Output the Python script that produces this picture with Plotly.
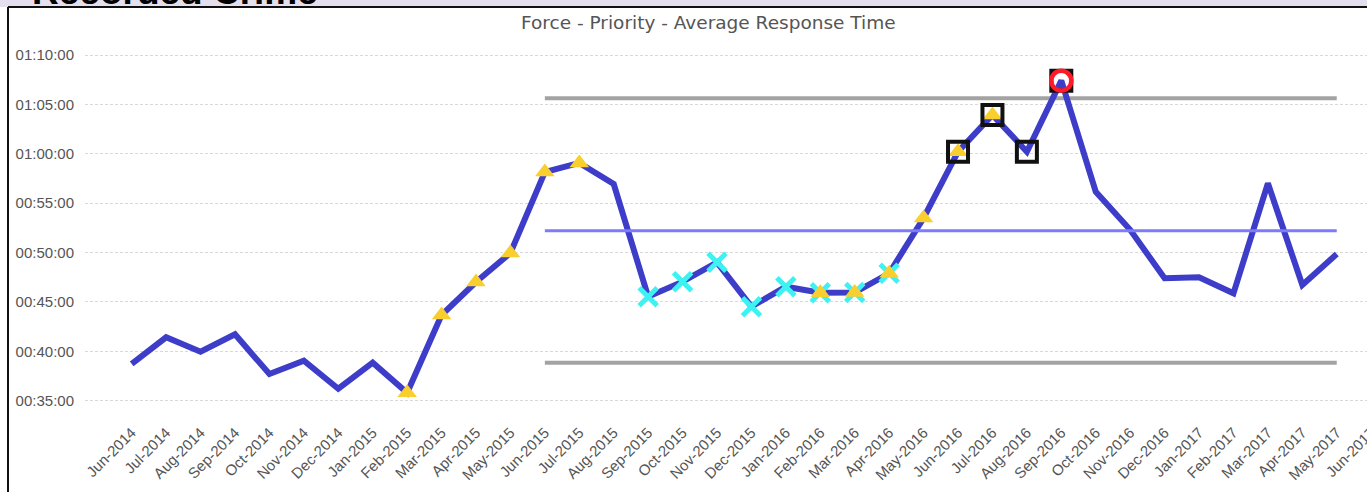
import plotly.graph_objects as go

# ---------------- data ----------------
months = ["Jun-2014", "Jul-2014", "Aug-2014", "Sep-2014", "Oct-2014", "Nov-2014", "Dec-2014",
          "Jan-2015", "Feb-2015", "Mar-2015", "Apr-2015", "May-2015", "Jun-2015", "Jul-2015",
          "Aug-2015", "Sep-2015", "Oct-2015", "Nov-2015", "Dec-2015", "Jan-2016", "Feb-2016",
          "Mar-2016", "Apr-2016", "May-2016", "Jun-2016", "Jul-2016", "Aug-2016", "Sep-2016",
          "Oct-2016", "Nov-2016", "Dec-2016", "Jan-2017", "Feb-2017", "Mar-2017", "Apr-2017",
          "May-2017", "Jun-2017"]

# average response time in minutes (Jun-2014 .. May-2017)
avg_minutes = [38.72, 41.42, 39.96, 41.72, 37.70, 39.05, 36.21, 38.85, 35.81, 43.68,
               47.02, 49.95, 58.15, 59.07, 56.94, 45.53, 47.05, 49.01, 44.52, 46.54,
               45.93, 45.95, 47.90, 53.50, 60.21, 63.93, 60.21, 67.40, 56.16, 52.30,
               47.39, 47.49, 45.87, 57.01, 46.71, 49.85]

# control limits (minutes), applied from limit_start to the last month with data
centre_line = 52.2
upper_limit = 65.62
lower_limit = 38.85
limit_start = "Jun-2015"

# SPC rule flags
trend_months = ["Feb-2015", "Mar-2015", "Apr-2015", "May-2015", "Jun-2015", "Jul-2015",
                "Feb-2016", "Mar-2016", "Apr-2016", "May-2016", "Jun-2016", "Jul-2016"]
run_months = ["Sep-2015", "Oct-2015", "Nov-2015", "Dec-2015", "Jan-2016", "Feb-2016",
              "Mar-2016", "Apr-2016"]
near_limit_months = ["Jun-2016", "Jul-2016", "Aug-2016", "Sep-2016"]
outside_months = ["Sep-2016"]

tick_minutes = [35, 40, 45, 50, 55, 60, 65, 70]
tick_text = ["00:35:00", "00:40:00", "00:45:00", "00:50:00", "00:55:00",
             "01:00:00", "01:05:00", "01:10:00"]

# ---------------- helpers ----------------
data_months = months[:len(avg_minutes)]
value_of = dict(zip(data_months, avg_minutes))
limit_months = data_months[data_months.index(limit_start):]

W, H = 1410, 492
ML, MT, MB = 85, 30, 72
PW = W - ML
PH = H - MT - MB


def px_x(px):
    return (px - ML) / PW


def px_y(py):
    return (H - MB - py) / PH


fig = go.Figure()

fig.add_trace(go.Scatter(x=limit_months, y=[upper_limit] * len(limit_months), mode="lines",
                         line=dict(color="#a3a3a3", width=4), hoverinfo="skip"))
fig.add_trace(go.Scatter(x=limit_months, y=[lower_limit] * len(limit_months), mode="lines",
                         line=dict(color="#a3a3a3", width=4), hoverinfo="skip"))
fig.add_trace(go.Scatter(x=data_months, y=avg_minutes, mode="lines",
                         line=dict(color="#3d3dc9", width=6)))
fig.add_trace(go.Scatter(x=limit_months, y=[centre_line] * len(limit_months), mode="lines",
                         line=dict(color="#7b7bfb", width=3), hoverinfo="skip"))

fig.add_trace(go.Scatter(x=run_months, y=[value_of[m] for m in run_months], mode="markers",
                         marker=dict(symbol="x-thin", size=18,
                                     line=dict(color="#3ff2f2", width=5))))
fig.add_trace(go.Scatter(x=trend_months, y=[value_of[m] for m in trend_months], mode="markers",
                         marker=dict(symbol="triangle-up", size=17, color="#f8cf2e",
                                     line=dict(width=0))))
fig.add_trace(go.Scatter(x=near_limit_months, y=[value_of[m] for m in near_limit_months],
                         mode="markers",
                         marker=dict(symbol="square-open", size=20, color="#111111",
                                     line=dict(width=4))))
fig.add_trace(go.Scatter(x=outside_months, y=[value_of[m] for m in outside_months],
                         mode="markers",
                         marker=dict(symbol="circle-open", size=20, color="#ff1a2a",
                                     line=dict(width=4.5))))

spacing = 34.43
first_px = 131.7
x_left = -(first_px - ML) / spacing
x_right = x_left + PW / spacing
px_per_min = (400.7 - 55.0) / 35.0
y_top = 70 + (55.0 - MT) / px_per_min
y_bottom = 35 - (H - MB - 400.7) / px_per_min

fig.update_layout(
    width=W, height=H,
    margin=dict(l=ML, r=0, t=MT, b=MB),
    paper_bgcolor="white", plot_bgcolor="white",
    showlegend=False,
    xaxis=dict(type="category", categoryorder="array", categoryarray=months,
               range=[x_left, x_right], showgrid=False, zeroline=False, showline=False,
               tickangle=-45, ticks="", tickfont=dict(family="Liberation Sans, Arial",
                                                      size=15, color="#555555")),
    yaxis=dict(range=[y_bottom, y_top], tickvals=tick_minutes, ticktext=tick_text,
               showgrid=True, gridcolor="#d9d9d9", griddash="3px,2px", gridwidth=1,
               zeroline=False, showline=False, ticks="", ticklabelstandoff=10,
               tickfont=dict(family="Liberation Sans, Arial", size=15, color="#555555")),
    shapes=[
        dict(type="rect", xref="paper", yref="paper", x0=px_x(0), x1=1,
             y0=px_y(7), y1=px_y(0), fillcolor="#e4dfee", line=dict(width=0)),
        dict(type="line", xref="paper", yref="paper", x0=px_x(8), x1=1,
             y0=px_y(7), y1=px_y(7), line=dict(color="#111111", width=2)),
        dict(type="line", xref="paper", yref="paper", x0=px_x(8), x1=px_x(8),
             y0=px_y(7), y1=px_y(H), line=dict(color="#111111", width=2)),
    ],
    annotations=[
        dict(text="Force - Priority - Average Response Time", xref="paper", yref="paper",
             x=px_x(708), y=px_y(22), xanchor="center", yanchor="middle", showarrow=False,
             font=dict(family="DejaVu Sans", size=18.5, color="#555555")),
        dict(text="<b>Recorded Crime</b>", xref="paper", yref="paper",
             x=px_x(30), y=px_y(-8), xanchor="left", yanchor="middle", showarrow=False,
             font=dict(family="Liberation Sans, Arial", size=37, color="#000000")),
    ],
)

fig.write_html("out.html", config={"displayModeBar": False},
               post_script="document.body.style.margin='0';document.body.style.overflow='hidden';")
